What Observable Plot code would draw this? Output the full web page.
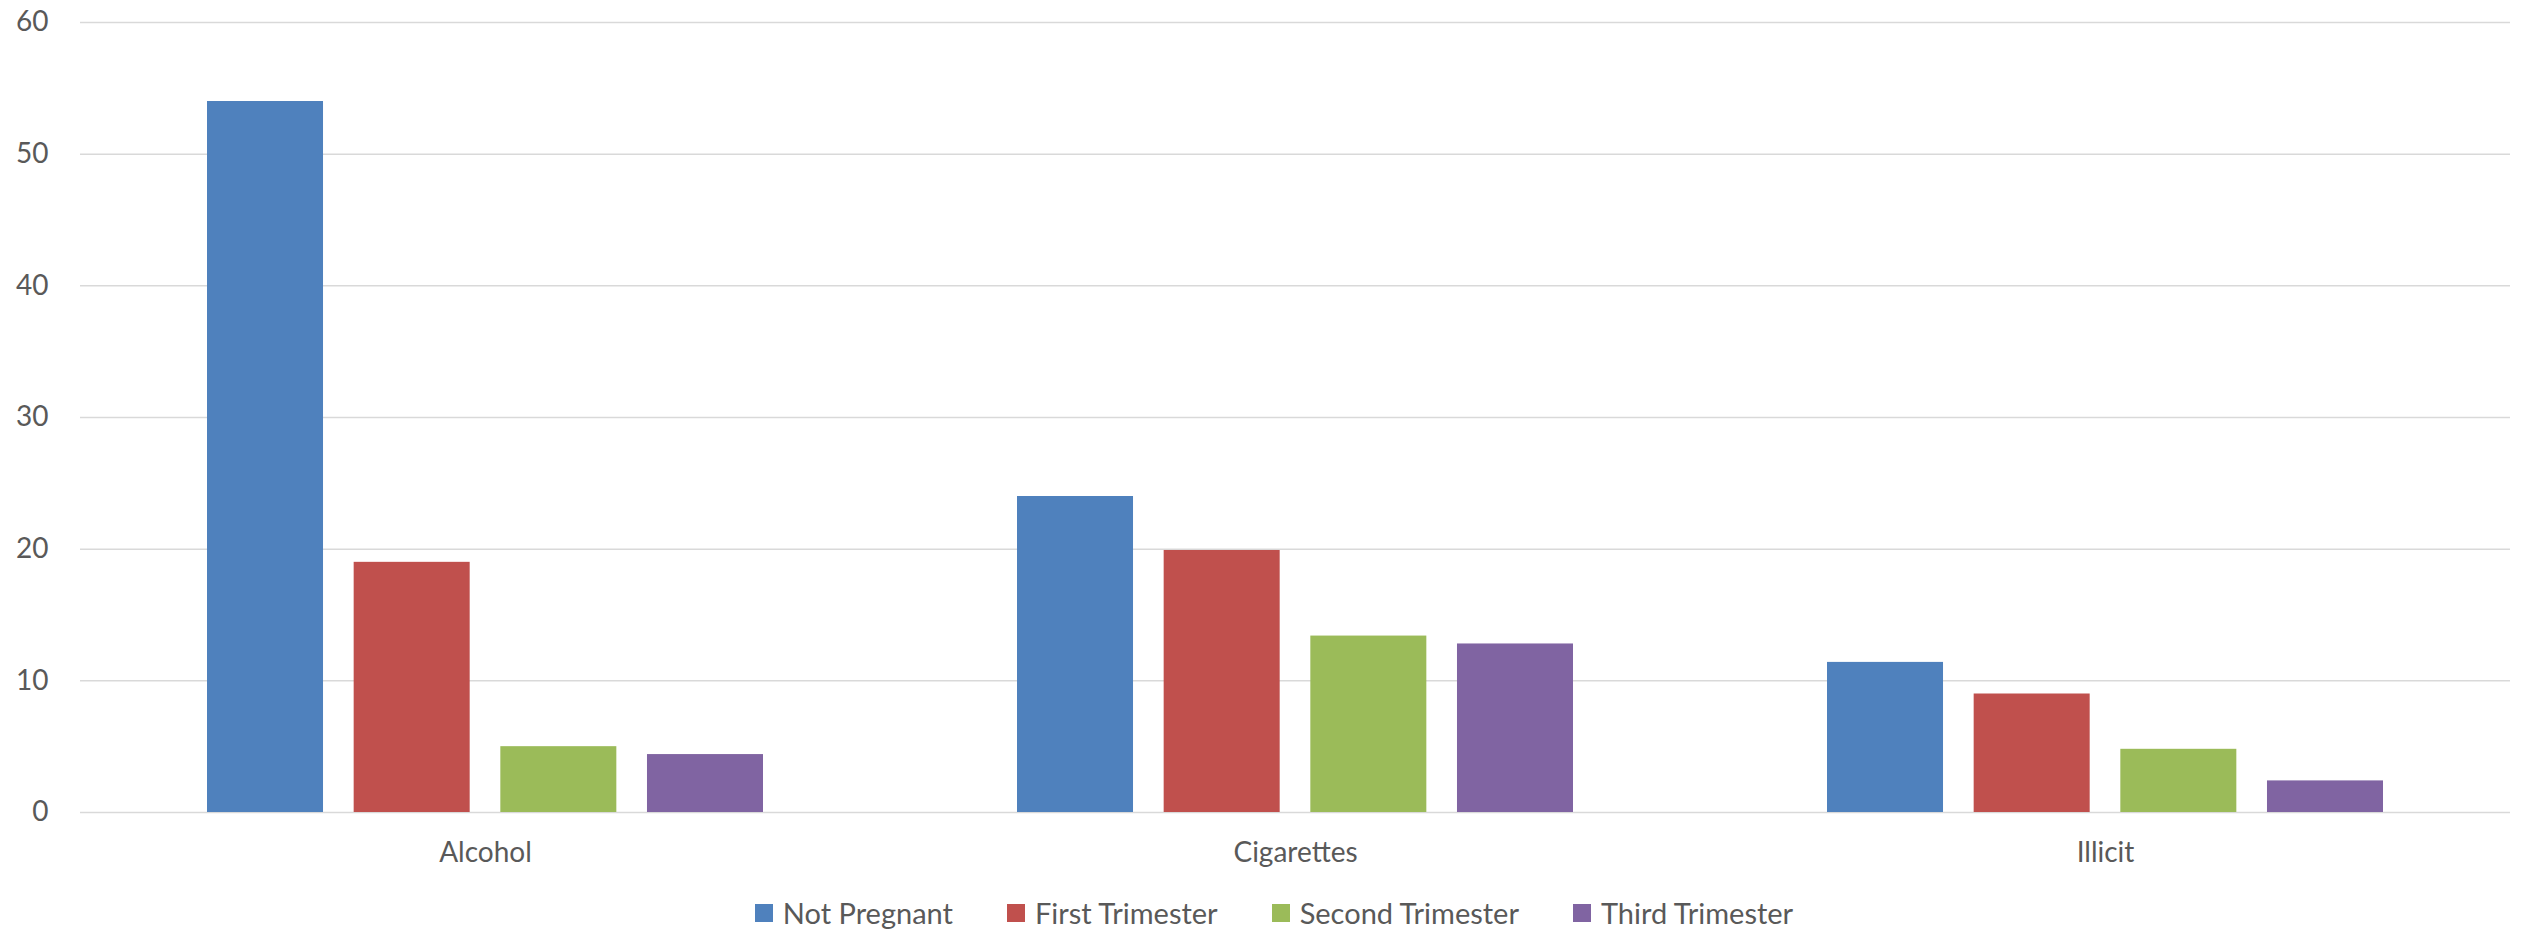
<!DOCTYPE html>
<html>
<head>
<meta charset="utf-8">
<script src="https://cdn.jsdelivr.net/npm/d3@7"></script>
<script src="https://cdn.jsdelivr.net/npm/@observablehq/plot@0.6"></script>
<style>
  body { margin: 0; background: #fff; font-family: Lato, "Liberation Sans", sans-serif; }
  #legend {
    display: flex; justify-content: center; align-items: center;
    height: 41px; padding-top: 12px; padding-left: 22px;
    font-size: 29px; color: #595959;
  }
  .item { display: flex; align-items: center; margin: 0 27px; }
  .swatch { width: 18px; height: 18px; margin-right: 10px; }
</style>
</head>
<body>
<div id="chart"></div>
<div id="legend"></div>
<script>
// Substance use by pregnancy status
const categories = ["Alcohol", "Cigarettes", "Illicit"];
const series = ["Not Pregnant", "First Trimester", "Second Trimester", "Third Trimester"];
const notPregnant = [54, 24, 11.4];
const firstTrimester = [19, 19.9, 9];
const secondTrimester = [5, 13.4, 4.8];
const thirdTrimester = [4.4, 12.8, 2.4];
const colors = ["#4F81BD", "#C0504D", "#9BBB59", "#8064A2"];
const yTicks = [0, 10, 20, 30, 40, 50, 60];

const seriesValues = [notPregnant, firstTrimester, secondTrimester, thirdTrimester];
const data = [];
categories.forEach((c, i) => {
  series.forEach((s, j) => data.push({category: c, series: s, value: seriesValues[j][i]}));
});

const chart = Plot.plot({
  width: 2526,
  height: 880,
  marginLeft: 80,
  marginRight: 16,
  marginTop: 22,
  marginBottom: 68,
  style: {fontFamily: "Lato, 'Liberation Sans', sans-serif", fontSize: "28px", color: "#595959", background: "#fff"},
  fx: {domain: categories, padding: 0, label: null},
  x: {domain: series, axis: null, paddingInner: 0.209, paddingOuter: 0.866, round: false},
  y: {domain: [0, 60], axis: null},
  color: {domain: series, range: colors},
  marks: [
    Plot.ruleY(yTicks, {stroke: "#d9d9d9", strokeWidth: 1.5}),
    Plot.barY(data, {fx: "category", x: "series", y: "value", fill: "series"}),
    Plot.axisY(yTicks, {tickSize: 0, tickPadding: 32, fill: "#595959", label: null}),
    Plot.axisFx({anchor: "bottom", tickSize: 0, tickPadding: 30, fill: "#595959", label: null})
  ]
});
document.getElementById("chart").appendChild(chart);

const legend = document.getElementById("legend");
series.forEach((s, i) => {
  const item = document.createElement("div");
  item.className = "item";
  const sw = document.createElement("span");
  sw.className = "swatch";
  sw.style.background = colors[i];
  const label = document.createElement("span");
  label.textContent = s;
  item.appendChild(sw);
  item.appendChild(label);
  legend.appendChild(item);
});
</script>
</body>
</html>
